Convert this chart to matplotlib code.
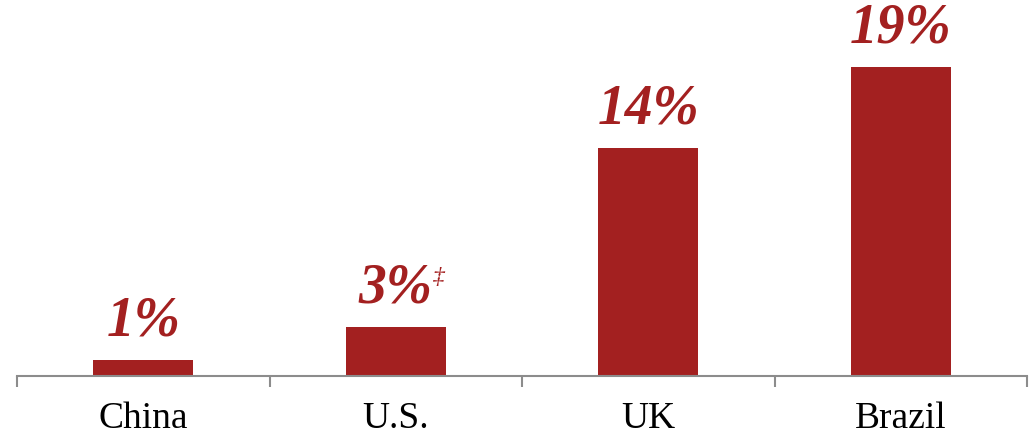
import matplotlib
matplotlib.use("Agg")
import matplotlib.pyplot as plt

categories = ["China", "U.S.", "UK", "Brazil"]
values = [1, 3, 14, 19]
labels = ["1%", "3%", "14%", "19%"]
markers = ["", "‡", "", ""]

RED = "#A32020"
W, H = 1030, 438
fig = plt.figure(figsize=(W / 100, H / 100), dpi=100)
ax = fig.add_axes([17 / W, 1 - 376 / H, (1027 - 17) / W, 376 / H])

x = list(range(len(categories)))
ax.bar(x, values, width=0.395, color=RED)
ax.set_xlim(-0.5, len(categories) - 0.5)
ax.set_ylim(0, 23.1)

for xi, v, lab, m in zip(x, values, labels, markers):
    t = ax.annotate(lab, (xi, v), xytext=(0, 9), textcoords="offset points",
                    ha="center", va="bottom", color=RED, fontsize=40,
                    family="Liberation Serif", fontweight="bold", fontstyle="italic")
    if m:
        fig.canvas.draw()
        bb = t.get_window_extent()
        ax.annotate(m, xy=(bb.x1, bb.y1), xycoords="figure pixels",
                    xytext=(0, -3), textcoords="offset points",
                    ha="left", va="top", color=RED, fontsize=17,
                    family="Liberation Serif", fontstyle="italic")

for s in ["top", "right", "left"]:
    ax.spines[s].set_visible(False)
ax.spines["bottom"].set_color("#8c8c8c")
ax.spines["bottom"].set_linewidth(1.5)
ax.set_yticks([])

ax.set_xticks([i - 0.5 for i in range(len(categories) + 1)])
ax.set_xticklabels([])
ax.tick_params(axis="x", which="major", length=8, width=1.5, color="#8c8c8c", direction="out")
ax.set_xticks(x, minor=True)
ax.set_xticklabels(categories, minor=True, fontsize=27, family="Liberation Serif", color="black")
ax.tick_params(axis="x", which="minor", length=0, pad=18)

fig.savefig("out.png", dpi=100)
